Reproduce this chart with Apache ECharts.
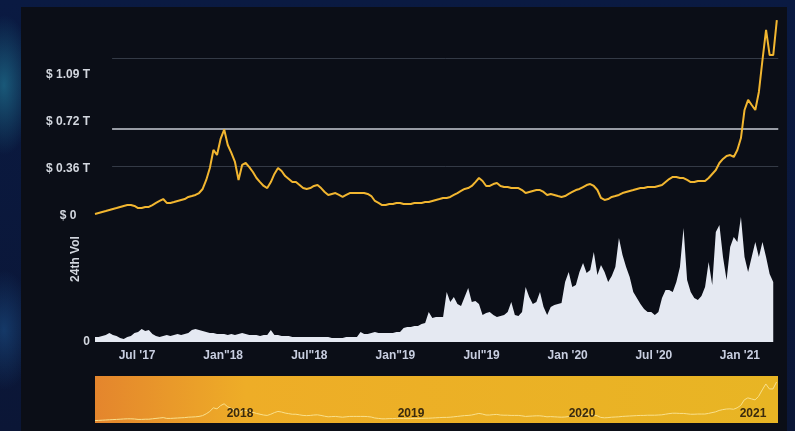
<!DOCTYPE html>
<html><head><meta charset="utf-8">
<script src="https://cdn.jsdelivr.net/npm/echarts@6/dist/echarts.min.js"></script>
<style>
html,body{margin:0;padding:0;width:795px;height:431px;overflow:hidden;background:#0b1a3e;}
#bg{position:absolute;left:0;top:0;width:795px;height:431px;
 background:radial-gradient(ellipse 30px 70px at 4px 85px, rgba(30,110,140,0.75), rgba(30,110,140,0)),
            radial-gradient(ellipse 30px 60px at 4px 330px, rgba(30,90,150,0.5), rgba(30,90,150,0)),
            linear-gradient(180deg,#0a1a42,#0b1636);}
#panel{position:absolute;left:21px;top:7px;width:766px;height:424px;background:#0b0e17;}
#chart{position:absolute;left:0;top:0;width:795px;height:431px;}
</style></head><body>
<div id="bg"></div><div id="panel"></div><div id="chart"></div>
<script>
// x positions: months after 1 Jul 2017, roughly weekly samples
const startMonth = -2.93;
const stepMonth = 0.25;
const tickLabels = ["Jul '17", 'Jan"18', 'Jul"18', 'Jan"19', 'Jul"19', "Jan '20", "Jul '20", "Jan '21"];
const yTickLabels = ['$ 0', '$ 0.36 T', '$ 0.72 T', '$ 1.09 T'];
const yearLabels = ['2018', '2019', '2020', '2021'];
// market cap, trillions USD
const price = [
 0.015,0.023,0.031,0.038,0.046,0.054,0.061,0.069,0.077,0.084,
 0.084,0.077,0.061,0.061,0.069,0.069,0.084,0.100,0.115,0.130,
 0.100,0.100,0.107,0.115,0.123,0.130,0.146,0.153,0.161,0.176,
 0.207,0.276,0.368,0.506,0.467,0.590,0.662,0.544,0.483,0.414,
 0.276,0.391,0.406,0.375,0.337,0.291,0.260,0.230,0.214,0.260,
 0.322,0.368,0.345,0.306,0.283,0.260,0.260,0.237,0.214,0.207,
 0.214,0.230,0.237,0.214,0.184,0.161,0.169,0.176,0.161,0.146,
 0.161,0.176,0.176,0.176,0.176,0.176,0.169,0.153,0.115,0.100,
 0.084,0.084,0.092,0.092,0.100,0.100,0.092,0.092,0.092,0.100,
 0.100,0.100,0.107,0.107,0.115,0.123,0.130,0.138,0.138,0.146,
 0.161,0.176,0.192,0.207,0.214,0.230,0.260,0.291,0.268,0.230,
 0.230,0.245,0.253,0.230,0.222,0.222,0.214,0.214,0.214,0.199,
 0.176,0.184,0.192,0.199,0.199,0.184,0.161,0.169,0.161,0.153,
 0.146,0.153,0.169,0.184,0.199,0.207,0.222,0.237,0.245,0.230,
 0.199,0.138,0.123,0.130,0.146,0.153,0.161,0.176,0.184,0.192,
 0.199,0.207,0.214,0.214,0.222,0.222,0.222,0.230,0.237,0.260,
 0.283,0.299,0.299,0.291,0.291,0.276,0.260,0.260,0.268,0.268,
 0.268,0.291,0.322,0.352,0.406,0.437,0.460,0.467,0.452,0.506,
 0.597,0.812,0.889,0.850,0.812,0.950,1.195,1.425,1.233,1.233,
 1.501
];
// 24h volume (relative units)
const volume = [
 5,5,6,7,9,7,6,4,3,5,
 6,9,10,13,11,12,8,6,5,6,
 7,6,7,8,7,8,9,12,13,12,
 11,10,9,9,8,8,8,7,8,7,
 8,9,8,7,7,7,6,7,7,12,
 7,7,6,6,6,5,5,5,5,5,
 5,5,5,5,5,5,4,4,4,4,
 5,5,5,5,10,8,8,9,10,9,
 9,9,9,9,10,10,14,15,15,16,
 16,18,19,30,24,25,25,25,50,40,
 45,38,36,45,54,40,41,38,27,29,
 30,27,25,26,27,30,40,27,26,30,
 55,45,38,40,50,35,27,35,37,38,
 39,60,70,55,57,70,79,69,72,90,
 67,77,70,60,66,75,104,87,75,65,
 50,44,38,33,30,30,27,30,44,52,
 52,50,60,75,114,62,50,44,42,46,
 55,80,57,110,117,85,62,95,105,100,
 125,85,70,85,100,85,100,85,68,60,
 null
];
// reference levels (trillions USD)
const levelValues = [1.21, 0.666, 0.383];
const levelBright = [false, true, false];
const levelFrom = -1.74, levelTo = 44.67;

const months = price.map((_, i) => +(startMonth + i * stepMonth).toFixed(3));
const priceData = months.map((m, i) => [m, price[i]]);
const volData = months.map((m, i) => [m, volume[i]]);

const font = {fontFamily: '"Liberation Sans", Arial, sans-serif', fontWeight: 'bold', fontSize: 12};
const chart = echarts.init(document.getElementById('chart'), null, {renderer: 'canvas'});

const option = {
  backgroundColor: 'transparent',
  animation: false,
  grid: [
    {left: 94, right: 12, top: 10, bottom: 215},
    {left: 94, right: 12, top: 176, bottom: 89},
    {left: 95, right: 17, top: 376, bottom: 8, show: true, borderWidth: 0,
     backgroundColor: new echarts.graphic.LinearGradient(0, 0, 1, 0, [
       {offset: 0, color: '#e4852d'}, {offset: 0.22, color: '#eead27'}, {offset: 1, color: '#e8b524'}])},
    {left: 240, right: 42, top: 397, height: 10}
  ],
  xAxis: [
    {gridIndex: 0, type: 'value', min: -3, max: 45, interval: 3, show: false},
    {gridIndex: 1, type: 'value', min: -3, max: 45, interval: 3,
     axisLine: {show: false}, axisTick: {show: false}, splitLine: {show: false},
     axisLabel: Object.assign({}, font, {color: '#c8cee0', margin: 8, showMinLabel: false, showMaxLabel: false,
       formatter: v => { const k = v / 6; if (Math.abs(k - Math.round(k)) > 1e-6) return ''; return tickLabels[Math.round(k)] || ''; }})},
    {gridIndex: 2, type: 'value', min: -2.93, max: 44.67, show: false},
    {gridIndex: 3, type: 'category', data: yearLabels, boundaryGap: false, z: 10,
     axisLine: {show: false}, axisTick: {show: false}, splitLine: {show: false},
     axisLabel: Object.assign({}, font, {color: '#3a2a0e', margin: 1, interval: 0})}
  ],
  yAxis: [
    {gridIndex: 0, type: 'value', min: 0, max: 1.578, interval: 0.36,
     splitLine: {show: false}, axisLine: {show: false}, axisTick: {show: false},
     axisLabel: Object.assign({}, font, {color: '#d3d7df', align: 'center', margin: 26, showMaxLabel: false,
       formatter: v => yTickLabels[Math.round(v / 0.36)] || ''})},
    {gridIndex: 1, type: 'value', min: 0, max: 166, interval: 166,
     name: '24th Vol', nameLocation: 'middle', nameGap: 12, nameRotate: 90, nameMoveOverlap: false,
     nameTextStyle: Object.assign({}, font, {color: '#d3d7df'}),
     splitLine: {show: false}, axisLine: {show: false}, axisTick: {show: false},
     axisLabel: Object.assign({}, font, {color: '#d3d7df', margin: 4, showMaxLabel: false})},
    {gridIndex: 2, type: 'value', min: -0.077, max: 1.731, show: false},
    {gridIndex: 3, type: 'value', show: false}
  ],
  series: [
    {type: 'line', xAxisIndex: 0, yAxisIndex: 0, data: priceData, showSymbol: false, z: 5,
     lineStyle: {color: '#f2b630', width: 2},
     markLine: {silent: true, symbol: ['none', 'none'], label: {show: false}, animation: false,
       data: levelValues.map((v, k) => [
         {coord: [levelFrom, v], lineStyle: {color: levelBright[k] ? '#c9cdd6' : '#343a46', width: levelBright[k] ? 1.6 : 1, type: 'solid'}},
         {coord: [levelTo, v]}])}},
    {type: 'line', xAxisIndex: 1, yAxisIndex: 1, data: volData, showSymbol: false, z: 3,
     lineStyle: {width: 0}, areaStyle: {color: '#e5e9f2', opacity: 1}},
    {type: 'line', xAxisIndex: 2, yAxisIndex: 2, data: priceData, showSymbol: false, z: 4, silent: true,
     lineStyle: {color: '#f9e08c', width: 1}}
  ]
};
chart.setOption(option);
</script>
</body></html>
